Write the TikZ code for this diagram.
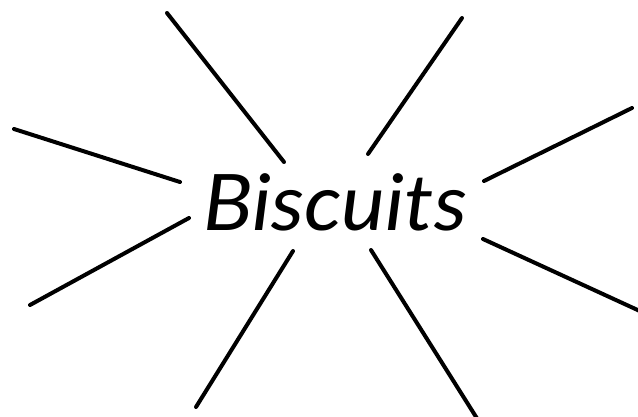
\documentclass[tikz,border=0pt]{standalone}
\usepackage{fontspec}
\newfontfamily\handfont{Lato Italic}
\tikzset{
  spoke/.style={line width=4pt, line cap=round},
  topic/.style={font=\handfont\fontsize{78}{80}\selectfont, inner sep=0pt, xscale=1.06}
}
\begin{document}
\begin{tikzpicture}[x=1pt, y=-1pt]
\useasboundingbox (0,0) rectangle (638,416);

\node[topic, anchor=base] (topic) at (335,230) {Biscuits};

% spokes: inner end / outer end
\foreach \n/\ix/\iy/\ox/\oy in {1/284/162/167/13, 2/368/154/462/18, 3/180/182/14/129,
  4/484/181/632/108, 5/189/218/30/305, 6/483/239/642/312, 7/293/251/196/407, 8/371/250/478/420} {
  \coordinate (in\n) at (\ix,\iy);
  \coordinate (out\n) at (\ox,\oy);
  \draw[spoke] (in\n) -- (out\n);
}
\end{tikzpicture}
\end{document}
